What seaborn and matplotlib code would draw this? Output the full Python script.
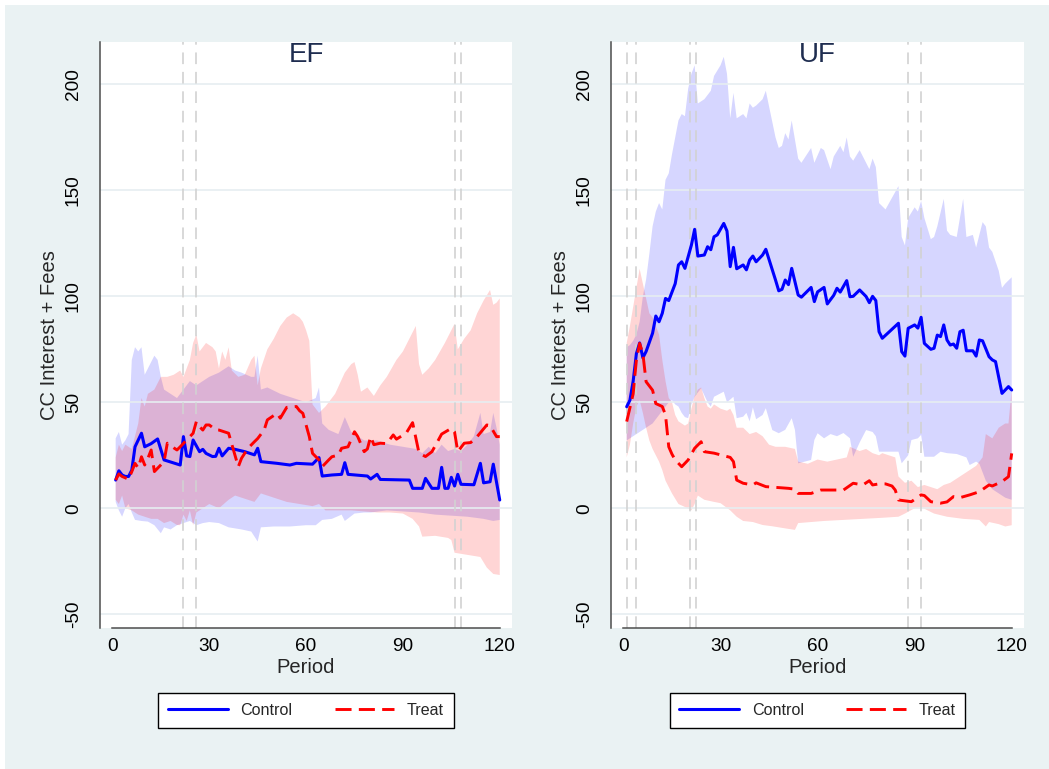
import matplotlib
matplotlib.use("Agg")
import matplotlib.pyplot as plt
from matplotlib.lines import Line2D
from matplotlib.patches import Rectangle
import seaborn as sns

# ---------------- data: EF panel ----------------
ef_ctrl_x = [1, 2, 3, 4, 5, 6, 7, 9, 10, 12, 14, 16, 21, 22, 23, 24, 25, 27, 28, 29, 31, 32, 33, 34, 36, 38,
             41, 44, 45, 46, 51, 55, 57, 62, 64, 65, 68, 71, 72, 73, 79, 80, 82, 83, 92, 93, 96, 97, 99, 101,
             102, 103, 104, 105, 106, 107, 108, 112, 114, 115, 117, 118, 120]
ef_ctrl_y = [13.3, 17.7, 15.7, 15, 15, 18, 29, 35.4, 29, 30.5, 32.7, 22.8, 20.4, 33.8, 24.7, 24.4, 32.2, 26.7,
             27.8, 25.9, 24.4, 24.5, 28.3, 24.7, 28.3, 27.8, 26.7, 25.2, 28.3, 22, 21.2, 20.4, 21.2, 20.8,
             23.9, 15.2, 15.7, 16, 21.5, 16, 15.2, 13.8, 16, 13.6, 13.3, 9.4, 9.4, 14.1, 9.4, 9.4, 19.3, 9.4,
             9.4, 14.6, 10.5, 16, 11.3, 11.1, 21.2, 12, 12.5, 20.8, 3.9]

ef_treat_x = [1, 2, 3, 5, 6, 7, 8, 9, 10, 11, 12, 13, 14, 16, 17, 19, 20, 21, 23, 25, 26, 27, 28, 29, 30, 32,
              33, 36, 39, 40, 42, 44, 45, 47, 48, 51, 52, 54, 57, 58, 59, 61, 62, 64, 65, 67, 68, 70, 71, 73,
              75, 76, 78, 79, 80, 81, 83, 85, 87, 88, 91, 93, 95, 97, 99, 101, 102, 105, 106, 107, 109, 111,
              113, 116, 117, 119, 120]
ef_treat_y = [13.3, 16.2, 15, 13.7, 17.3, 21.2, 19, 24.3, 20.4, 23.6, 27.5, 17.3, 18.9, 22, 30.7, 28.5, 27.5,
              29, 32.2, 35.4, 40.9, 38.5, 36.9, 39.3, 39.3, 37, 36.9, 35.4, 19.6, 23.6, 28.3, 31.4, 32.9,
              36.9, 41.7, 44.8, 42.5, 47.6, 48, 46, 44.8, 33.8, 25.9, 22.8, 19.6, 22.8, 24.3, 25.1, 28.3, 29,
              36.1, 33.8, 26.7, 28, 33.8, 30, 30.7, 30.5, 34.6, 32.6, 35.4, 40.4, 26, 24.4, 26.7, 32.2, 35,
              37.7, 36, 26.7, 30.7, 31, 33.8, 39.3, 39, 33.8, 33.8]

ef_ctrl_hi_x = [1, 2, 3, 4, 5, 6, 7, 8, 9, 10, 11, 13, 14, 15, 16, 18, 20, 22, 24, 26, 28, 30, 33, 36, 38, 40,
                43, 44, 45, 46, 48, 52, 56, 60, 63, 64, 65, 67, 70, 72, 74, 78, 82, 86, 90, 94, 96, 98, 100,
                102, 104, 106, 108, 110, 112, 114, 115, 117, 118, 119, 120]
ef_ctrl_hi_y = [33, 36, 30, 32, 35, 70, 76, 74, 76, 63, 66, 72, 70, 62, 56, 54, 52, 56, 60, 58, 60, 62, 64, 67,
                65, 64, 62, 62, 72, 56, 57, 54, 52, 50, 52, 57, 40, 37, 35, 43, 36, 32, 32, 30, 29, 28, 26, 29,
                26, 30, 27, 28, 27, 30, 34, 45, 35, 36, 45, 38, 30]
ef_ctrl_lo_x = [1, 2, 3, 4, 5, 6, 7, 9, 11, 13, 15, 16, 18, 20, 22, 24, 26, 28, 30, 33, 36, 40, 43, 45, 46, 50,
                55, 60, 63, 65, 68, 71, 72, 75, 78, 80, 85, 90, 95, 100, 105, 110, 115, 118, 120]
ef_ctrl_lo_y = [3, -1, -4, 0, 2, -2, -5.5, -6, -6.3, -8, -11.8, -9, -10, -8, -7, -6, -8, -7, -6.5, -7, -9, -10,
                -11, -15.7, -9, -8.6, -8.6, -8, -8, -5.5, -5, -3, -6, -2.5, -2, -2, -1, -1.5, -2, -3, -3.5,
                -4, -5, -6, -5.5]

ef_treat_hi_x = [1, 2, 3, 4, 6, 8, 9, 10, 11, 13, 15, 17, 19, 21, 22, 24, 25, 26, 27, 28, 29, 31, 32, 33, 34,
                 35, 36, 37, 39, 41, 43, 44, 45, 46, 48, 50, 52, 54, 56, 58, 59, 60, 61, 62, 64, 66, 68, 69,
                 72, 74, 75, 76, 77, 79, 81, 83, 85, 88, 90, 92, 94, 95, 96, 98, 100, 103, 106, 107, 109, 111,
                 113, 115, 117, 118, 119, 120]
ef_treat_hi_y = [24, 30, 27, 30, 28, 40, 52, 48, 54, 56, 62, 62, 63, 65, 62, 70, 78, 82, 74, 76, 78, 76, 74, 66,
                 74, 70, 76, 65, 62, 63, 70, 72, 58, 66, 75, 80, 86, 90, 92, 90, 88, 84, 79, 49, 45, 48, 52,
                 54, 64, 68, 69, 63, 55, 57, 53, 58, 62, 70, 74, 80, 86, 68, 63, 66, 70, 78, 87, 75, 80, 84,
                 92, 98, 103, 96, 97, 99]
ef_treat_lo_x = [1, 2, 3, 4, 6, 8, 10, 12, 14, 16, 18, 20, 21, 22, 23, 24, 25, 26, 28, 30, 33, 36, 38, 40, 44,
                 46, 50, 54, 58, 62, 64, 66, 70, 74, 78, 82, 86, 90, 93, 95, 96, 100, 104, 105, 106, 110, 114,
                 116, 118, 120]
ef_treat_lo_y = [4, 2, 6, 0, -1, -3, -4, -5, -5, -7, -6, -7.9, -8, -3, -6, -1, -8, -2, 0, 2, 0, 4, 6, 5, 3, 7,
                 5, 3, 2, 1, 2, -1, -1, -1, -1.5, -2, -2, -2.5, -5, -8.6, -13.4, -13, -14, -15, -21, -22, -23,
                 -28, -31, -31.5]

# ---------------- data: UF panel ----------------
uf_ctrl_x = [1, 2, 3, 4, 5, 6, 7, 9, 10, 11, 12, 13, 14, 16, 17, 18, 19, 21, 22, 23, 25, 26, 27, 28, 29, 31,
             32, 33, 34, 35, 37, 38, 39, 40, 41, 43, 44, 47, 48, 49, 50, 51, 52, 54, 55, 58, 59, 60, 62, 63,
             65, 66, 67, 69, 70, 71, 73, 75, 76, 77, 78, 79, 80, 85, 86, 87, 88, 90, 91, 92, 93, 95, 96, 97,
             98, 99, 100, 101, 102, 103, 104, 105, 106, 108, 109, 110, 111, 113, 114, 115, 117, 119, 120]
uf_ctrl_y = [47.9, 51, 60, 73, 78, 71, 74, 82.6, 90.7, 88, 92, 99, 98, 106, 114.8, 116.3, 113.2, 124.2,
             131.6, 119, 119.5, 123.4, 122, 128.1, 129, 134.4, 130.8, 114, 123.1, 113, 114.8, 112.5, 117.1,
             119, 116.3, 119.5, 122.2, 107.7, 102.6, 103.3, 107.7, 105.5, 113.2, 100.6, 99.6, 104.2, 97.5,
             102.1, 104.2, 96.4, 100.5, 103.8, 102, 107.4, 99.8, 100, 103, 99.9, 97, 100, 98, 83.3, 80.2,
             87.3, 73.9, 71.8, 84.9, 86.5, 85, 90.1, 77.8, 75, 75.5, 81.7, 81, 86.5, 79.4, 77, 77.5, 75.5,
             83.3, 84, 74.3, 74.3, 71.8, 79.4, 79, 71.5, 70, 69.2, 54.2, 57.4, 55.8]

uf_treat_x = [1, 3, 4, 5, 6, 7, 9, 10, 12, 13, 14, 15, 16, 18, 20, 22, 24, 25, 28, 33, 34, 35, 37, 40, 41, 44,
              51, 53, 54, 58, 61, 68, 71, 74, 76, 77, 79, 81, 83, 84, 85, 89, 92, 93, 95, 98, 100, 102, 104,
              107, 110, 113, 114, 117, 119, 120]
uf_treat_y = [40.9, 54, 70, 77.8, 73, 59.7, 55.7, 49.4, 48, 44, 29, 25.5, 22.8, 19.6, 22.8, 28.3, 31.4, 26.7,
              26, 24, 22, 13.3, 11.8, 11, 12, 10.2, 9.4, 9, 7, 7, 8.6, 8.6, 11.8, 11, 13, 11, 11.5, 11.5,
              10.5, 8.6, 3.9, 3.1, 6.3, 6, 3.1, 2.4, 3, 5.5, 5, 6.3, 7.8, 11, 10.5, 12.6, 14.9, 25.9]

uf_ctrl_hi_x = [1, 2, 3, 4, 5, 6, 7, 8, 9, 10, 11, 12, 13, 14, 15, 17, 18, 19, 20, 21, 22, 23, 25, 27, 28, 30,
                31, 32, 33, 34, 35, 37, 38, 39, 40, 41, 43, 44, 47, 48, 49, 50, 51, 52, 54, 55, 58, 59, 61,
                62, 64, 65, 67, 68, 69, 70, 71, 73, 74, 76, 77, 78, 79, 81, 85, 86, 87, 88, 90, 91, 92, 93,
                95, 96, 97, 99, 100, 101, 103, 105, 106, 108, 109, 111, 112, 113, 114, 116, 117, 118, 120]
uf_ctrl_hi_y = [76, 77, 79, 82, 88, 100, 108, 120, 133, 140, 144, 141, 155, 158, 167, 183, 186, 185, 198, 205,
                209, 191, 193, 197, 204, 209, 213, 205, 184, 196, 184, 186, 184, 191, 189, 190, 193, 197,
                175, 170, 171, 177, 174, 183, 165, 163, 170, 163, 170, 169, 160, 166, 171, 168, 175, 166,
                164, 169, 166, 160, 165, 161, 144, 141, 152, 128, 124, 137, 142, 140, 145, 137, 127, 128,
                133, 146, 131, 129, 128, 146, 128, 129, 123, 135, 133, 123, 121, 112, 104, 106, 109]
uf_ctrl_lo_x = [1, 3, 5, 7, 9, 11, 13, 14, 15, 16, 17, 18, 19, 20, 21, 22, 24, 26, 27, 28, 30, 31, 32, 34, 35,
                37, 38, 39, 40, 41, 43, 44, 46, 48, 50, 52, 53, 54, 58, 59, 60, 62, 64, 66, 68, 70, 71, 73,
                75, 77, 78, 79, 85, 86, 88, 89, 91, 92, 93, 96, 98, 100, 103, 106, 107, 109, 110, 111, 112,
                114, 116, 118, 120]
uf_ctrl_lo_y = [32, 34, 36, 38, 40, 44, 48, 50, 51, 49, 48, 45, 43, 42.5, 49, 52.6, 56.6, 50, 48, 52.6, 54.2,
                55, 50, 52.6, 42.5, 43.2, 45, 41, 47.6, 42, 44, 47.2, 36.9, 35.4, 37, 42.5, 37, 21.2, 22.8,
                32.2, 35.4, 33, 35, 34, 35.5, 33, 24.3, 31, 36.9, 36, 34, 26.7, 26.7, 21.2, 25, 32.2, 33, 34.6,
                24.3, 24.3, 26.7, 26, 25.6, 24, 20.4, 22, 21, 17, 13, 9, 7, 5, 4]

uf_treat_hi_x = [1, 2, 3, 4, 5, 6, 7, 8, 9, 10, 11, 12, 13, 14, 15, 16, 17, 18, 19, 20, 21, 22, 23, 24, 25, 26,
                 27, 28, 30, 32, 33, 34, 35, 37, 39, 41, 43, 45, 47, 50, 53, 54, 57, 60, 63, 66, 69, 70, 73,
                 75, 77, 79, 80, 82, 84, 85, 87, 89, 91, 93, 95, 97, 99, 101, 103, 105, 107, 109, 111, 112,
                 114, 116, 118, 119, 120]
uf_treat_hi_y = [78, 86, 95, 104, 113, 106, 99, 92, 90, 86, 82, 70, 60, 52, 50, 44, 41, 40, 39, 40, 47, 53, 56,
                 57, 52, 48, 47, 49, 47, 46, 47, 44, 38, 38, 35, 36, 34, 30, 29, 29, 28, 22, 21, 23, 22, 23,
                 24, 29, 27, 28, 26, 25, 26, 25, 24, 15, 12, 13, 10, 11, 10, 9, 11, 12, 14, 16, 18, 20, 24,
                 35, 33, 38, 40, 40, 56]
uf_treat_lo_x = [1, 2, 3, 4, 5, 6, 7, 8, 9, 10, 11, 12, 13, 14, 15, 17, 19, 21, 22, 23, 25, 28, 30, 33, 35, 37,
                 40, 43, 46, 50, 53, 54, 58, 62, 68, 74, 80, 85, 87, 90, 92, 94, 96, 100, 105, 110, 112, 113,
                 116, 118, 120]
uf_treat_lo_y = [24, 30, 40, 48, 51, 45, 38, 32, 28, 25, 22, 18, 13, 10, 7, 2, 0.6, -1, 2, 6, 4, 3, 2.4, -1, -4,
                 -6, -6.5, -7.9, -8.5, -9.5, -10.2, -7, -6.5, -6, -5.5, -5, -4.5, -4, -2.5, 0, 0.6, -1, -2.5,
                 -4, -5, -5.5, -8.6, -6.5, -7.5, -8.6, -8]

# event periods marked with vertical reference lines
ef_events = [22, 26, 106, 108]
uf_events = [1, 4, 20.5, 22.5, 88, 92]

panel_titles = ["EF", "UF"]
group_labels = ["Control", "Treat"]
x_ticks = [0, 30, 60, 90, 120]
y_ticks = [-50, 0, 50, 100, 150, 200]

# ---------------- styling ----------------
sns.set_style("white")
plt.rcParams["font.family"] = ["Liberation Sans", "DejaVu Sans"]

BG = "#eaf2f3"
BLUE = "#0000ff"
RED = "#ff0000"
AXIS_COL = "#4d4d4d"
GRID_COL = "#e6eef1"
EVENT_COL = "#d2d2d2"
TITLE_COL = "#1f2d50"
DASH = (0, (5.5, 2.5))

W, H = 1049, 769
fig = plt.figure(figsize=(W / 100, H / 100), dpi=100)
fig.patch.set_facecolor("white")
fig.add_artist(Rectangle((5 / W, 0), 1 - 5 / W, 1 - 5 / H, transform=fig.transFigure,
                         facecolor=BG, edgecolor="none", zorder=-10))

ax_l = fig.add_axes([100 / W, (H - 628) / H, 412 / W, 586 / H])
ax_r = fig.add_axes([611 / W, (H - 628) / H, 413 / W, 586 / H])

panels = [
    (ax_l, panel_titles[0], ef_events,
     (ef_ctrl_x, ef_ctrl_y, ef_ctrl_hi_x, ef_ctrl_hi_y, ef_ctrl_lo_x, ef_ctrl_lo_y),
     (ef_treat_x, ef_treat_y, ef_treat_hi_x, ef_treat_hi_y, ef_treat_lo_x, ef_treat_lo_y)),
    (ax_r, panel_titles[1], uf_events,
     (uf_ctrl_x, uf_ctrl_y, uf_ctrl_hi_x, uf_ctrl_hi_y, uf_ctrl_lo_x, uf_ctrl_lo_y),
     (uf_treat_x, uf_treat_y, uf_treat_hi_x, uf_treat_hi_y, uf_treat_lo_x, uf_treat_lo_y)),
]


def draw_band(ax, hx, hy, lx, ly, color, alpha):
    xs = list(hx) + list(lx)[::-1]
    ys = list(hy) + list(ly)[::-1]
    ax.fill(xs, ys, color=color, alpha=alpha, lw=0, zorder=1)


for ax, title, events, ctrl, treat in panels:
    ax.set_facecolor("white")
    ax.set_xlim(-3.85, 123.8)
    ax.set_ylim(-56.5, 220)

    draw_band(ax, ctrl[2], ctrl[3], ctrl[4], ctrl[5], BLUE, 0.16)
    draw_band(ax, treat[2], treat[3], treat[4], treat[5], RED, 0.165)

    for yv in y_ticks:
        ax.axhline(yv, color=GRID_COL, lw=1.2, zorder=2)
    for ev in events:
        ax.axvline(ev, color=EVENT_COL, lw=1.4, linestyle=(0, (6, 4)), alpha=0.85, zorder=2)

    sns.lineplot(x=ctrl[0], y=ctrl[1], ax=ax, color=BLUE, lw=2.2, legend=False, zorder=4)
    sns.lineplot(x=treat[0], y=treat[1], ax=ax, color=RED, lw=2.1, linestyle=DASH,
                 legend=False, zorder=5)

    ax.text(0.5, 0.978, title, transform=ax.transAxes, ha="center", va="center",
            fontsize=20, color=TITLE_COL)

    for side in ["top", "right"]:
        ax.spines[side].set_visible(False)
    ax.spines["left"].set_color(AXIS_COL)
    ax.spines["left"].set_linewidth(1.1)
    ax.spines["bottom"].set_color(AXIS_COL)
    ax.spines["bottom"].set_linewidth(1.1)
    ax.spines["bottom"].set_bounds(0, 120)

    ax.set_xticks(x_ticks)
    ax.set_yticks(y_ticks)
    ax.set_xticklabels([str(v) for v in x_ticks])
    ax.set_yticklabels([str(v) for v in y_ticks], rotation=90, va="center")
    ax.tick_params(axis="both", direction="out", length=6, width=1.1, color=AXIS_COL,
                   labelsize=13.7, labelcolor="black")
    ax.tick_params(axis="x", pad=1.5)
    ax.tick_params(axis="y", pad=7)
    ax.set_xlabel("Period", fontsize=14.5, labelpad=2)
    ax.set_ylabel("CC Interest + Fees", fontsize=14.5, labelpad=4)

    handles = [Line2D([], [], color=BLUE, lw=2.2),
               Line2D([], [], color=RED, lw=2.1, linestyle=DASH)]
    leg = ax.legend(handles, group_labels, loc="upper center", bbox_to_anchor=(0.5, -0.111),
                    ncol=2, fontsize=11.6, frameon=True, fancybox=False, framealpha=1,
                    edgecolor="black", handlelength=3.7, handletextpad=0.8, columnspacing=2.6,
                    borderpad=0.62, borderaxespad=0)
    leg.get_frame().set_linewidth(1.0)

fig.savefig("out.png", dpi=100, facecolor=fig.get_facecolor())
